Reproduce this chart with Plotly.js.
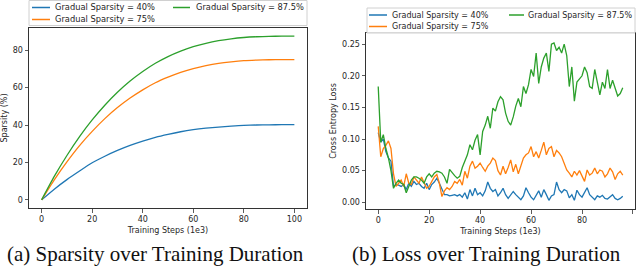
<!DOCTYPE html>
<html>
<head>
<meta charset="utf-8">
<script src="https://cdn.plot.ly/plotly-3.0.1.min.js"></script>
<style>html,body{margin:0;padding:0;background:#fff}#chart{width:640px;height:267px}</style>
</head>
<body>
<div id="chart"></div>
<script>
// ---- data: left panel (sparsity schedule) ----
const stepsA = [0,5,10,15,20,25,30,35,40,45,50,55,60,65,70,75,80,85,90,95,100];
const sparsity40 = [0,5.7,10.8,15.4,19.8,23.3,26.4,29.1,31.4,33.4,35.0,36.4,37.5,38.3,38.9,39.4,39.8,40.0,40.1,40.2,40.2];
const sparsity75 = [0,10.7,20.3,29.0,36.6,43.4,49.3,54.4,58.8,62.6,65.6,68.2,70.2,71.8,73.0,73.8,74.4,74.7,74.9,75.0,75.0];
const sparsity875 = [0,12.5,23.7,33.8,42.7,50.6,57.5,63.5,68.6,73.0,76.6,79.5,81.9,83.7,85.1,86.1,86.8,87.2,87.4,87.5,87.5];

// ---- data: right panel (cross entropy loss) ----
const stepsB = [0,1,2,3,4,5,6,7,8,9,10,11,12,13,14,15,16,17,18,19,20,21,22,23,24,25,26,27,28,29,30,31,32,33,34,35,36,37,38,39,40,41,42,43,44,45,46,47,48,49,50,51,52,53,54,55,56,57,58,59,60,61,62,63,64,65,66,67,68,69,70,71,72,73,74,75,76,77,78,79,80,81,82,83,84,85,86,87,88,89,90,91,92,93,94,95,96];
const loss40 = [0.11,0.095,0.10,0.08,0.07,0.065,0.025,0.028,0.027,0.025,0.028,0.02,0.03,0.025,0.033,0.028,0.03,0.025,0.022,0.03,0.02,0.028,0.032,0.038,0.03,0.02,0.012,0.012,0.01,0.011,0.012,0.01,0.012,0.008,0.015,0.005,0.02,0.01,0.022,0.012,0.015,0.01,0.018,0.032,0.022,0.017,0.02,0.01,0.015,0.022,0.012,0.006,0.012,0.017,0.012,0.008,0.004,0.01,0.023,0.015,0.008,0.004,0.012,0.018,0.008,0.02,0.012,0.003,0.01,0.012,0.032,0.02,0.015,0.02,0.018,0.007,0.012,0.003,0.019,0.012,0.008,0.015,0.023,0.012,0.008,0.004,0.01,0.008,0.011,0.006,0.005,0.008,0.012,0.006,0.004,0.006,0.0095];
const loss75 = [0.12,0.072,0.085,0.09,0.097,0.085,0.045,0.025,0.03,0.035,0.025,0.045,0.03,0.028,0.04,0.035,0.03,0.04,0.03,0.022,0.025,0.033,0.04,0.044,0.03,0.009,0.018,0.023,0.02,0.025,0.033,0.03,0.036,0.027,0.049,0.038,0.057,0.065,0.054,0.057,0.062,0.055,0.049,0.057,0.062,0.07,0.066,0.05,0.043,0.057,0.045,0.055,0.067,0.048,0.06,0.045,0.058,0.07,0.075,0.078,0.088,0.072,0.08,0.07,0.082,0.095,0.075,0.085,0.088,0.072,0.082,0.078,0.072,0.062,0.051,0.046,0.04,0.049,0.043,0.05,0.04,0.033,0.051,0.043,0.046,0.054,0.045,0.051,0.049,0.04,0.045,0.054,0.048,0.036,0.045,0.049,0.043];
const loss875 = [0.183,0.095,0.107,0.085,0.07,0.05,0.022,0.03,0.035,0.03,0.028,0.015,0.025,0.035,0.04,0.04,0.038,0.035,0.03,0.04,0.045,0.04,0.046,0.049,0.048,0.046,0.04,0.03,0.052,0.046,0.042,0.038,0.041,0.055,0.065,0.075,0.091,0.083,0.098,0.107,0.075,0.112,0.122,0.136,0.117,0.149,0.144,0.159,0.167,0.162,0.141,0.128,0.122,0.135,0.152,0.164,0.151,0.183,0.172,0.186,0.21,0.199,0.236,0.188,0.214,0.228,0.236,0.207,0.25,0.252,0.24,0.245,0.236,0.25,0.232,0.183,0.214,0.16,0.19,0.195,0.2,0.214,0.205,0.183,0.18,0.21,0.19,0.17,0.19,0.18,0.21,0.18,0.193,0.18,0.168,0.172,0.181];

// ---- labels ----
const seriesNames = ["Gradual Sparsity = 40%","Gradual Sparsity = 75%","Gradual Sparsity = 87.5%"];
const seriesColors = ["#1f77b4","#ff7f0e","#2ca02c"];
const xTicks = [0,20,40,60,80,100];
const yTicksA = [0,20,40,60,80];
const yTicksB = [0,0.05,0.10,0.15,0.20,0.25];
const xTitle = "Training Steps (1e3)";
const yTitleA = "Sparsity (%)";
const yTitleB = "Cross Entropy Loss";
const captionA = "(a) Sparsity over Training Duration";
const captionB = "(b) Loss over Training Duration";

const W = 640, H = 267;
const PX = x => x / W;
const PY = y => 1 - y / H;
const FONT = "DejaVu Sans";
const TXT = "#262626";

const traces = [];
const setsA = [sparsity40, sparsity75, sparsity875];
const setsB = [loss40, loss75, loss875];
for (let i = 0; i < 3; i++) {
  traces.push({x: stepsA, y: setsA[i], type: "scatter", mode: "lines", name: seriesNames[i],
    line: {color: seriesColors[i], width: 1.3, shape: "spline", smoothing: 0.6}, xaxis: "x", yaxis: "y", showlegend: false, hoverinfo: "skip"});
}
for (let i = 0; i < 3; i++) {
  traces.push({x: stepsB, y: setsB[i], type: "scatter", mode: "lines", name: seriesNames[i],
    line: {color: seriesColors[i], width: 1.3}, xaxis: "x2", yaxis: "y2", showlegend: false, hoverinfo: "skip"});
}

function axisBase() {
  return {showgrid: false, zeroline: false, showline: true, linecolor: "#333", linewidth: 1, mirror: true,
    ticks: "outside", ticklen: 3.5, tickwidth: 0.8, tickcolor: "#333",
    tickfont: {family: FONT, size: 8, color: TXT}, fixedrange: true};
}

const layout = {
  width: W, height: H, margin: {l: 0, r: 0, t: 0, b: 0},
  paper_bgcolor: "#fff", plot_bgcolor: "#fff", showlegend: false,
  font: {family: FONT, size: 8, color: TXT},
  xaxis: Object.assign(axisBase(), {domain: [PX(29), PX(307)], range: [-5, 105], tickvals: xTicks, anchor: "y",
    title: {text: xTitle, font: {family: FONT, size: 8, color: TXT}, standoff: 4}}),
  yaxis: Object.assign(axisBase(), {domain: [PY(208), PY(28)], range: [-4.375, 91.875], tickvals: yTicksA, anchor: "x",
    title: {text: yTitleA, font: {family: FONT, size: 8, color: TXT}, standoff: 4}}),
  xaxis2: Object.assign(axisBase(), {domain: [PX(366), PX(635)], range: [-4.8, 100.8], tickvals: xTicks, anchor: "y2",
    title: {text: xTitle, font: {family: FONT, size: 8, color: TXT}, standoff: 4}}),
  yaxis2: Object.assign(axisBase(), {domain: [PY(209), PY(33)], range: [-0.0107, 0.2677], tickvals: yTicksB, tickformat: ".2f", anchor: "x2",
    title: {text: yTitleB, font: {family: FONT, size: 8, color: TXT}, standoff: 4}}),
  shapes: [],
  annotations: []
};

// legends (drawn as boxes, line samples and text)
function addLegend(box, rows, cols, fontSize) {
  layout.shapes.push({type: "rect", xref: "paper", yref: "paper", x0: PX(box[0]), x1: PX(box[1]), y0: PY(box[3]), y1: PY(box[2]),
    line: {color: "#d0d0d0", width: 1}, fillcolor: "rgba(255,255,255,0.85)", layer: "above"});
  const order = [[0, 0], [1, 0], [0, 1]]; // [row, col] for each series
  for (let i = 0; i < 3; i++) {
    const r = rows[order[i][0]], c = cols[order[i][1]];
    layout.shapes.push({type: "line", xref: "paper", yref: "paper", x0: PX(c[0]), x1: PX(c[1]), y0: PY(r), y1: PY(r),
      line: {color: seriesColors[i], width: 1.5}, layer: "above"});
    layout.annotations.push({xref: "paper", yref: "paper", x: PX(c[2]), y: PY(r), xanchor: "left", yanchor: "middle",
      text: seriesNames[i], showarrow: false, borderpad: 0, font: {family: FONT, size: fontSize, color: TXT}});
  }
}
addLegend([29, 307, 0.5, 25.5], [7.5, 19.5], [[32, 50, 54], [173, 190, 195]], 8.3);
addLegend([367, 635, 8, 33], [15, 26.5], [[369, 387, 391], [509, 524, 527]], 8);

// captions
layout.annotations.push({xref: "paper", yref: "paper", x: PX(155), y: PY(266.5), xanchor: "center", yanchor: "bottom",
  text: captionA, showarrow: false, borderpad: 0, font: {family: "Liberation Serif", size: 21, color: "#111"}});
layout.annotations.push({xref: "paper", yref: "paper", x: PX(486), y: PY(266.5), xanchor: "center", yanchor: "bottom",
  text: captionB, showarrow: false, borderpad: 0, font: {family: "Liberation Serif", size: 21, color: "#111"}});

Plotly.newPlot("chart", traces, layout, {staticPlot: true, displayModeBar: false});
</script>
</body>
</html>
